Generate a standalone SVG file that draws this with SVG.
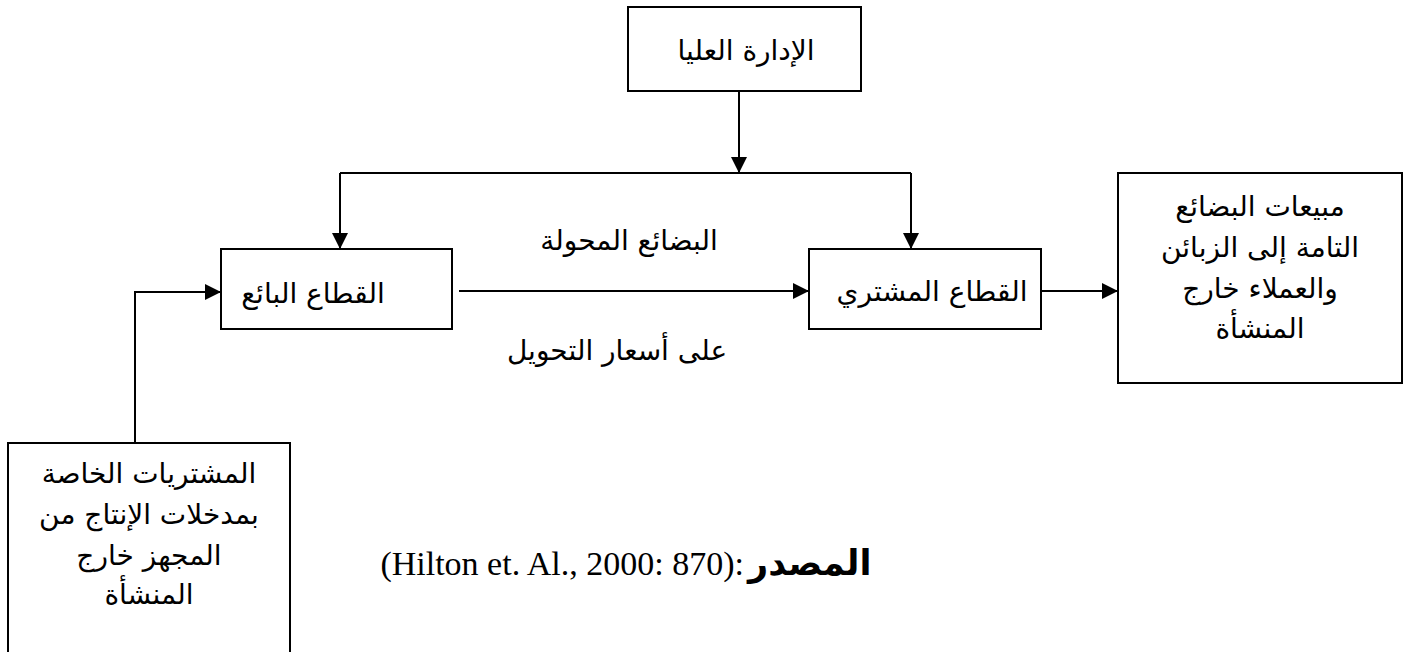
<svg xmlns="http://www.w3.org/2000/svg" width="1407" height="652" viewBox="0 0 1407 652">
  <style>
    .box { fill: #ffffff; stroke: #000000; stroke-width: 2; }
    .wire { fill: none; stroke: #000000; stroke-width: 2; }
    .ar { font-family: "DejaVu Sans", "Liberation Sans", sans-serif; font-size: 28px; fill: #000000; text-anchor: middle; }
    .lat { font-family: "Liberation Serif", "DejaVu Serif", serif; font-size: 34px; fill: #000000; }
  </style>
  <defs>
    <marker id="head" markerUnits="userSpaceOnUse" markerWidth="17" markerHeight="16" refX="16" refY="8" orient="auto">
      <path d="M0,0 L16,8 L0,16 Z" fill="#000000"/>
    </marker>
  </defs>
  <rect width="1407" height="652" fill="#ffffff"/>

  <!-- connectors and their labels -->
  <g id="connectors">
    <line class="wire" x1="739" y1="91" x2="739" y2="173" marker-end="url(#head)"/>
    <line class="wire" x1="340" y1="173" x2="911" y2="173"/>
    <line class="wire" x1="340" y1="173" x2="340" y2="249" marker-end="url(#head)"/>
    <line class="wire" x1="911" y1="173" x2="911" y2="249" marker-end="url(#head)"/>
    <line class="wire" x1="459" y1="291" x2="809" y2="291" marker-end="url(#head)"/>
    <line class="wire" x1="1041" y1="291" x2="1118" y2="291" marker-end="url(#head)"/>
    <polyline class="wire" points="135,443 135,292 221,292" marker-end="url(#head)"/>
    <text class="ar" x="629" y="250">البضائع المحولة</text>
    <text class="ar" x="617" y="360">على أسعار التحويل</text>
  </g>

  <g id="top-management">
    <rect class="box" x="628" y="7" width="233" height="84"/>
    <text class="ar" x="746" y="60">الإدارة العليا</text>
  </g>

  <g id="selling-division">
    <rect class="box" x="221" y="249" width="231" height="80"/>
    <text class="ar" x="313" y="303">القطاع البائع</text>
  </g>

  <g id="buying-division">
    <rect class="box" x="809" y="249" width="232" height="80"/>
    <text class="ar" x="932" y="301">القطاع المشتري</text>
  </g>

  <g id="external-sales">
    <rect class="box" x="1118" y="173" width="284" height="210"/>
    <text class="ar" x="1260" y="216">مبيعات البضائع</text>
    <text class="ar" x="1260" y="257">التامة إلى الزبائن</text>
    <text class="ar" x="1260" y="298">والعملاء خارج</text>
    <text class="ar" x="1260" y="338">المنشأة</text>
  </g>

  <g id="external-purchases">
    <rect class="box" x="8" y="443" width="282" height="230"/>
    <text class="ar" x="149" y="483">المشتريات الخاصة</text>
    <text class="ar" x="149" y="524">بمدخلات الإنتاج من</text>
    <text class="ar" x="149" y="565">المجهز خارج</text>
    <text class="ar" x="149" y="604">المنشأة</text>
  </g>

  <g id="source">
    <text class="lat" x="744" y="575" text-anchor="end">(Hilton et. Al., 2000: 870):</text>
    <text class="ar" x="748" y="575" style="text-anchor:start;font-weight:bold;font-size:35px">المصدر</text>
  </g>
</svg>
